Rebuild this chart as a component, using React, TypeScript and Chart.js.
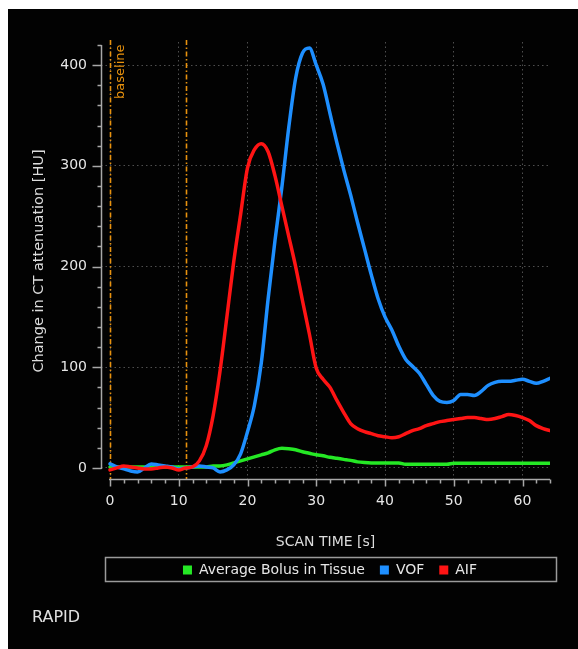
import React, { useEffect, useRef } from 'react';
import { Chart, registerables } from 'chart.js';
Chart.register(...registerables);

// ---- data ----
const timeSec = [0, 1, 2, 3, 4, 5, 6, 7, 8, 9, 10, 11, 12, 13, 14, 15, 16, 17, 18, 19, 20, 21, 22, 23, 24, 25, 26, 27, 28, 29, 30, 31, 32, 33, 34, 35, 36, 37, 38, 39, 40, 41, 42, 43, 44, 45, 46, 47, 48, 49, 50, 51, 52, 53, 54, 55, 56, 57, 58, 59, 60, 61, 62, 63, 64];

const tissueHU = [1, 1, 1, 1, 1, 1, 1, 1, 1, 1, 1, 1, 1, 1, 1, 2, 2, 3, 5, 7, 9, 11, 13, 15, 18, 19.5, 19, 18, 16, 14.5, 13, 12, 10.5, 9.5, 8.5, 7.5, 6, 5.3, 5, 5, 5, 5, 5, 3.6, 3.6, 3.6, 3.6, 3.6, 3.6, 3.6, 4.6, 4.6, 4.6, 4.6, 4.6, 4.6, 4.6, 4.6, 4.6, 4.6, 4.6, 4.6, 4.6, 4.6, 4.6];

const vofHU = [4, 1, -1, -3, -4, 0, 4, 3, 2, 1, -1, 0, 1, 2, 1, 0, -4, -2, 3, 14, 36, 62, 104, 168, 226, 279, 338, 387, 412, 417, 400, 381, 352, 323, 296, 271, 244, 218, 192, 168, 150, 137, 121, 108, 101, 94, 83, 72, 66, 65, 67, 73, 73, 72, 76, 82, 85, 86, 86, 87, 88, 86, 84, 86, 89];

const aifHU = [-2, 0, 2, 1, 0, -1, -1, 0, 1, 0, -2, 0, 1, 7, 22, 52, 96, 150, 205, 252, 298, 316, 322, 314, 290, 260, 230, 200, 166, 133, 99, 88, 80, 67, 55, 44, 39, 36, 34, 32, 31, 30, 31, 34, 37, 39, 42, 44, 46, 47, 48, 49, 50, 50, 49, 48, 49, 51, 53, 52, 50, 47, 42, 39, 37];

const seriesNames = ['Average Bolus in Tissue', 'VOF', 'AIF'];
const seriesColors = ['#25e825', '#1e8fff', '#ff1414'];
const xMajorTicks = [0, 10, 20, 30, 40, 50, 60];
const yMajorTicks = [0, 100, 200, 300, 400];
const baselineMarkers = [0, 11];

const FONT = '"DejaVu Sans", sans-serif';

export default function App() {
  const ref = useRef<HTMLCanvasElement>(null);

  useEffect(() => {
    const pts = (ys: number[]) => timeSec.map((t, i) => ({ x: t, y: ys[i] }));

    const decor = {
      id: 'decor',
      beforeDatasetsDraw(chart: any) {
        const { ctx, chartArea, scales } = chart;
        const x = scales.x;
        ctx.save();
        ctx.strokeStyle = '#e8920e';
        ctx.lineWidth = 1.6;
        ctx.setLineDash([5, 2.5, 1.5, 2.5]);
        for (const m of baselineMarkers) {
          const px = Math.round(x.getPixelForValue(m)) + 0.5;
          ctx.beginPath();
          ctx.moveTo(px, chartArea.top - 2);
          ctx.lineTo(px, chartArea.bottom);
          ctx.stroke();
        }
        ctx.setLineDash([]);
        ctx.fillStyle = '#e8920e';
        ctx.font = `13px ${FONT}`;
        ctx.translate(x.getPixelForValue(baselineMarkers[0]) + 11, chartArea.top + 2.5);
        ctx.rotate(-Math.PI / 2);
        ctx.textAlign = 'right';
        ctx.textBaseline = 'middle';
        ctx.fillText('baseline', 0, 0);
        ctx.restore();
      },
      afterDraw(chart: any) {
        const { ctx, chartArea, scales } = chart;
        const x = scales.x;
        const y = scales.y;
        ctx.save();
        ctx.strokeStyle = '#a8a8a8';
        ctx.lineWidth = 1.5;
        // y axis spine + ticks
        const ax = Math.round(chartArea.left) + 0.5;
        ctx.beginPath();
        ctx.moveTo(ax, y.getPixelForValue(0) + 1);
        ctx.lineTo(ax, y.getPixelForValue(420));
        ctx.stroke();
        for (let v = 0; v <= 420; v += 20) {
          const py = Math.round(y.getPixelForValue(v)) + 0.5;
          const len = yMajorTicks.includes(v) ? 9 : 4;
          ctx.beginPath();
          ctx.moveTo(ax - len, py);
          ctx.lineTo(ax, py);
          ctx.stroke();
        }
        // x axis spine + ticks
        const ay = Math.round(chartArea.bottom) - 0.5;
        ctx.beginPath();
        ctx.moveTo(x.getPixelForValue(0) - 1, ay);
        ctx.lineTo(x.getPixelForValue(64), ay);
        ctx.stroke();
        for (let t = 0; t <= 64; t += 2) {
          const px = Math.round(x.getPixelForValue(t)) + 0.5;
          const len = xMajorTicks.includes(t) ? 7 : 4;
          ctx.beginPath();
          ctx.moveTo(px, ay);
          ctx.lineTo(px, ay + len);
          ctx.stroke();
        }
        // legend box
        const bl = chartArea.left + 4;
        const br = x.getPixelForValue(64) + 6;
        const bt = 548;
        const bh = 24;
        ctx.strokeStyle = '#9a9a9a';
        ctx.lineWidth = 1.5;
        ctx.strokeRect(Math.round(bl) + 0.5, bt + 0.5, Math.round(br - bl), bh);
        ctx.font = `14px ${FONT}`;
        ctx.textBaseline = 'middle';
        ctx.textAlign = 'left';
        const sq = 9, gapSq = 7, gapItem = 15;
        const widths = seriesNames.map((n) => ctx.measureText(n).width);
        const total = widths.reduce((a, w) => a + sq + gapSq + w, 0) + gapItem * (seriesNames.length - 1);
        const cx = (x.getPixelForValue(0) + x.getPixelForValue(64)) / 2;
        let px = cx - total / 2;
        const ly = bt + bh / 2 + 1;
        seriesNames.forEach((n, i) => {
          ctx.fillStyle = seriesColors[i];
          ctx.fillRect(px, ly - 4.5, sq, sq);
          ctx.fillStyle = '#e6e6e6';
          ctx.fillText(n, px + sq + gapSq, ly);
          px += sq + gapSq + widths[i] + gapItem;
        });
        // RAPID label
        ctx.font = `16px ${FONT}`;
        ctx.fillStyle = '#e0e0e0';
        ctx.fillText('RAPID', 24, 609);
        ctx.restore();
      },
    };

    const chart = new Chart(ref.current as HTMLCanvasElement, {
      type: 'line',
      data: {
        datasets: [
          { label: seriesNames[0], data: pts(tissueHU), borderColor: seriesColors[0], order: 3 },
          { label: seriesNames[1], data: pts(vofHU), borderColor: seriesColors[1], order: 2 },
          { label: seriesNames[2], data: pts(aifHU), borderColor: seriesColors[2], order: 1 },
        ],
      },
      options: {
        responsive: false,
        animation: false,
        devicePixelRatio: 1,
        layout: { padding: { left: 23, top: 33, right: 28, bottom: 98 } },
        plugins: { legend: { display: false }, tooltip: { enabled: false } },
        elements: {
          point: { radius: 0 },
          line: { borderWidth: 3.5, cubicInterpolationMode: 'monotone', fill: false, borderCapStyle: 'round', borderJoinStyle: 'round' },
        },
        scales: {
          x: {
            type: 'linear',
            min: -1.31,
            max: 64,
            afterFit: (s: any) => { s.height = 71; },
            afterBuildTicks: (s: any) => { s.ticks = xMajorTicks.map((v) => ({ value: v })); },
            grid: { color: '#4e4e4e', lineWidth: 1, drawTicks: false },
            border: { display: false, dash: [1.5, 3] },
            ticks: { color: '#e6e6e6', font: { size: 14, family: FONT }, padding: 13, maxRotation: 0 },
            title: { display: true, text: 'SCAN TIME [s]', color: '#dcdcdc', font: { size: 14, family: FONT }, padding: 0 },
          },
          y: {
            type: 'linear',
            min: -12,
            max: 423,
            afterFit: (s: any) => { s.width = 70; },
            afterBuildTicks: (s: any) => { s.ticks = yMajorTicks.map((v) => ({ value: v })); },
            grid: { color: '#4e4e4e', lineWidth: 1, drawTicks: false },
            border: { display: false, dash: [1.5, 3] },
            ticks: { color: '#e6e6e6', font: { size: 14, family: FONT }, padding: 14 },
            title: { display: true, text: 'Change in CT attenuation [HU]', color: '#dcdcdc', font: { size: 14.5, family: FONT }, padding: 0 },
          },
        },
      } as any,
      plugins: [decor],
    });
    return () => chart.destroy();
  }, []);

  return (
    <div style={{ position: 'fixed', left: 8, top: 9, width: 570, height: 640, background: '#020202' }}>
      <canvas ref={ref} width={570} height={640} style={{ display: 'block' }} />
    </div>
  );
}
